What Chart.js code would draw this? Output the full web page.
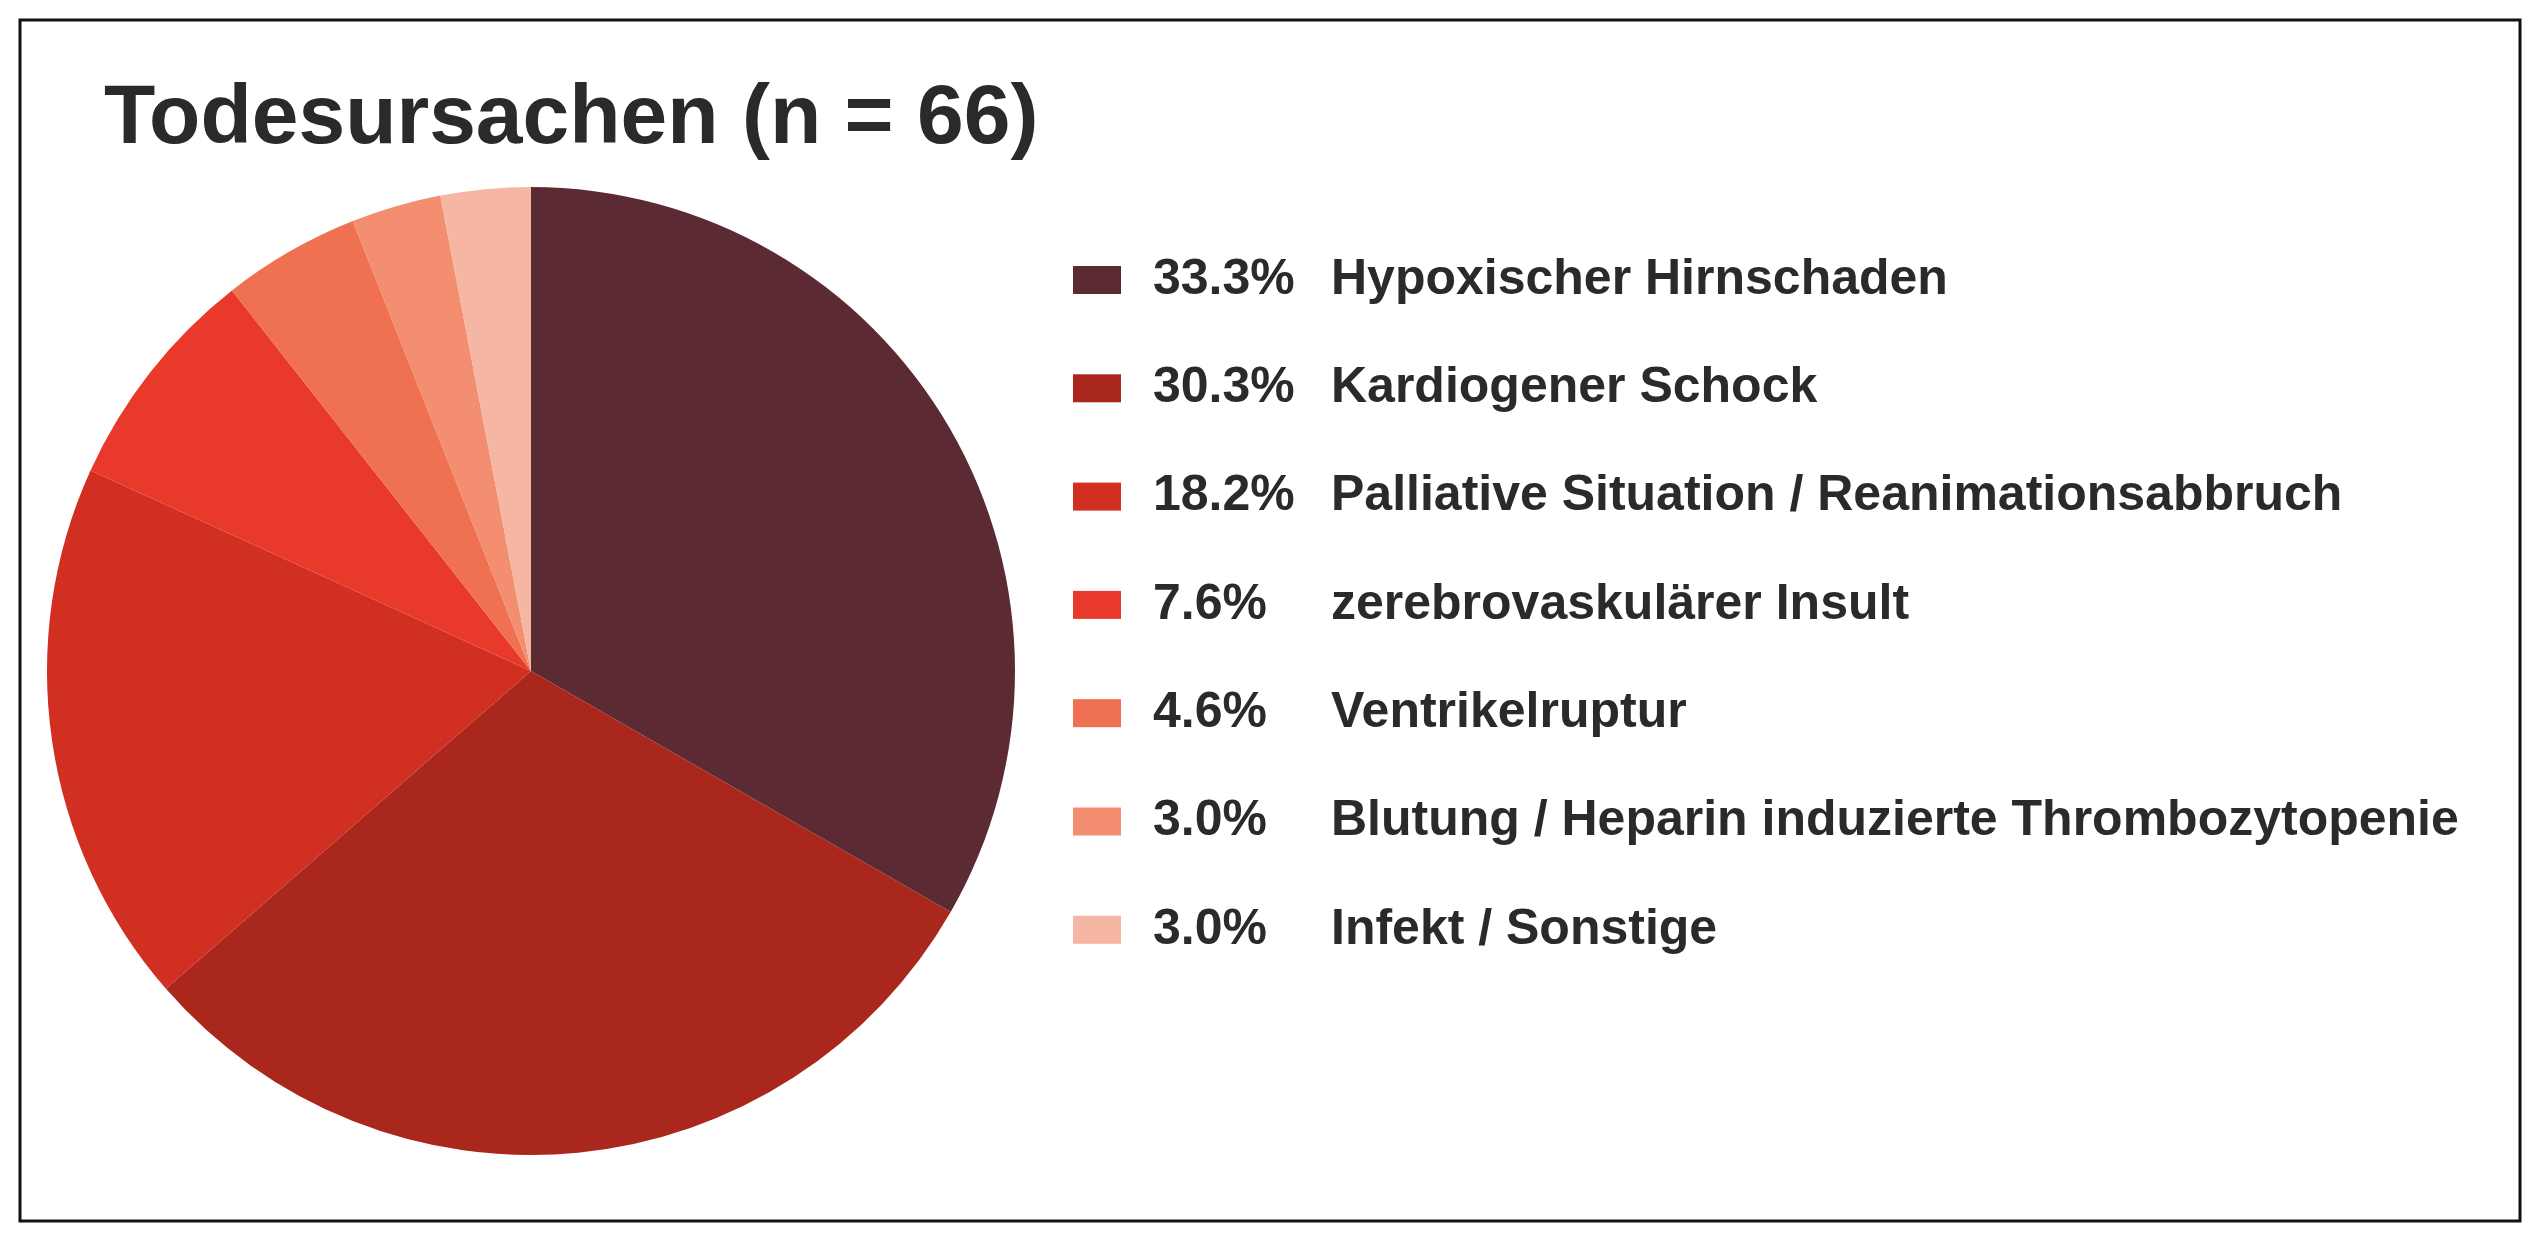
<!DOCTYPE html>
<html><head><meta charset="utf-8">
<script src="https://cdn.jsdelivr.net/npm/chart.js@4/dist/chart.umd.min.js"></script>
<style>html,body{margin:0;background:#fff}#w{position:absolute;left:0;top:0;width:2547px;height:1245px}</style>
</head><body><div id="w"><canvas id="c"></canvas></div>
<script>
const titleText = "Todesursachen (n = 66)";
const categories = ["Hypoxischer Hirnschaden","Kardiogener Schock","Palliative Situation / Reanimationsabbruch","zerebrovaskulärer Insult","Ventrikelruptur","Blutung / Heparin induzierte Thrombozytopenie","Infekt / Sonstige"];
const percentLabels = ["33.3%","30.3%","18.2%","7.6%","4.6%","3.0%","3.0%"];
const values = [33.3,30.3,18.2,7.6,4.6,3.0,3.0];
const colors = ["#5b2a33","#a9271d","#d02f22","#e9392a","#ef7152","#f38e70","#f5b7a4"];

const deco = {
  id:'deco',
  afterDraw(chart){
    const ctx = chart.ctx;
    ctx.save();
    ctx.strokeStyle='#111'; ctx.lineWidth=3;
    ctx.strokeRect(20,20,2500,1201);
    ctx.fillStyle='#2a2a2a';
    ctx.font='bold 84px "Liberation Sans", Arial, sans-serif';
    ctx.textBaseline='alphabetic';
    ctx.fillText(titleText,104,143);
    ctx.font='bold 50px "Liberation Sans", Arial, sans-serif';
    ctx.textBaseline='middle';
    categories.forEach((c,i)=>{
      const y=280+i*108.3;
      ctx.fillStyle=colors[i];
      ctx.fillRect(1073,y-14,48,28);
      ctx.fillStyle='#2a2a2a';
      ctx.fillText(percentLabels[i],1153,y);
      ctx.fillText(c,1331,y);
    });
    ctx.restore();
  }
};
new Chart(document.getElementById('c'),{
  type:'pie',
  data:{labels:categories,datasets:[{data:values,backgroundColor:colors,borderWidth:0}]},
  options:{responsive:true,maintainAspectRatio:false,animation:false,
    layout:{padding:{left:47,top:187,bottom:90,right:1532}},
    plugins:{legend:{display:false},tooltip:{enabled:false}}},
  plugins:[deco]
});
</script></body></html>
